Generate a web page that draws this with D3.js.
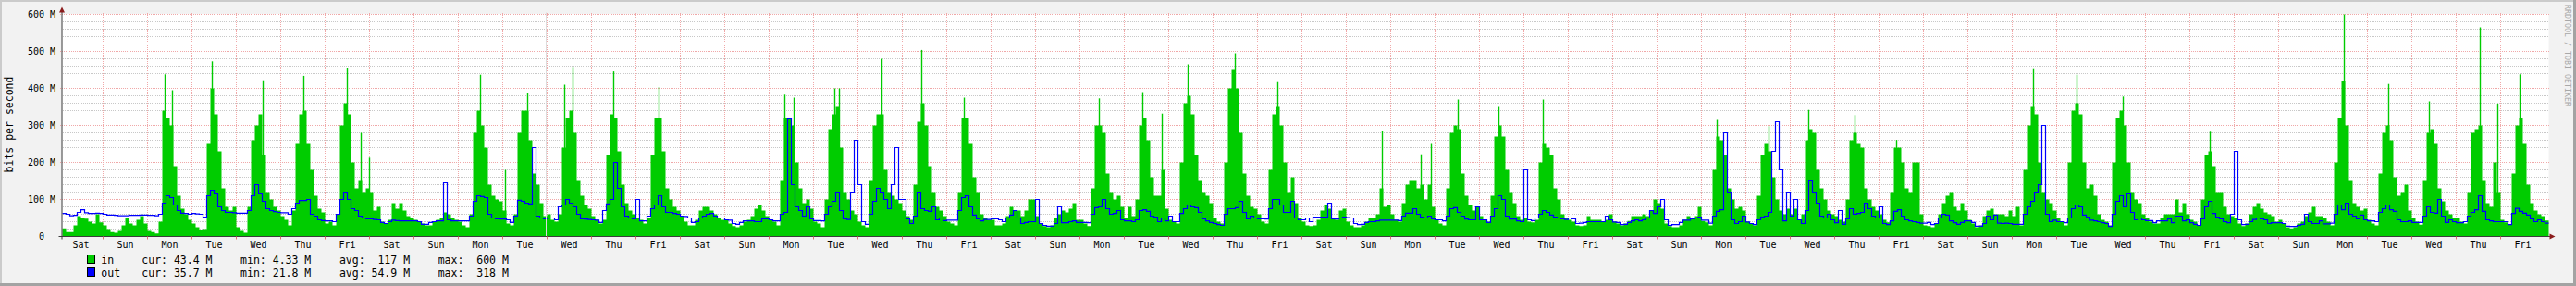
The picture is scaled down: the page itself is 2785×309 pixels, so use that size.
<!DOCTYPE html>
<html>
<head>
<meta charset="utf-8">
<script src="https://cdn.jsdelivr.net/npm/d3@7"></script>
<style>
  body { margin: 0; background: #f2f2f2; }
  text { font-family: "DejaVu Sans Mono", monospace; white-space: pre; }
</style>
</head>
<body>
<div id="my_dataviz"></div>
<script>
// traffic in Mbit/s, 2-hour averages, one row per day.
// first row is the partial Saturday starting at 02:00, then Sun .. Fri x 8 weeks, last row partial Sat
var inRate = [
  [22, 12, 12, 30, 55, 50, 48, 40, 35, 60, 38],
  [30, 20, 12, 10, 15, 30, 50, 35, 30, 45, 55, 35],
  [15, 12, 8, 40, 340, 320, 300, 190, 110, 75, 60, 45],
  [35, 25, 18, 20, 250, 400, 330, 230, 130, 80, 70, 80],
  [25, 15, 10, 80, 260, 300, 330, 220, 120, 100, 80, 70],
  [55, 45, 30, 70, 250, 330, 340, 250, 180, 110, 75, 65],
  [35, 40, 30, 60, 300, 360, 330, 200, 130, 150, 120, 130],
  [120, 70, 80, 40, 35, 45, 90, 75, 90, 70, 55, 50],
  [45, 40, 35, 30, 30, 40, 45, 50, 65, 60, 50, 45],
  [40, 30, 25, 60, 280, 340, 300, 240, 140, 110, 100, 95],
  [70, 35, 30, 60, 280, 340, 340, 260, 170, 140, 90, 55],
  [60, 45, 40, 60, 240, 320, 340, 280, 150, 110, 85, 75],
  [55, 45, 35, 45, 220, 330, 320, 230, 140, 90, 70, 60],
  [50, 45, 35, 50, 220, 320, 320, 230, 130, 100, 80, 70],
  [55, 40, 30, 30, 45, 70, 80, 80, 70, 60, 50, 45],
  [45, 35, 28, 25, 30, 40, 45, 55, 75, 85, 70, 55],
  [45, 40, 30, 150, 320, 320, 300, 200, 130, 90, 100, 75],
  [40, 35, 25, 100, 290, 330, 350, 240, 120, 100, 70, 60],
  [40, 30, 25, 150, 300, 330, 330, 180, 120, 110, 100, 90],
  [70, 55, 45, 140, 310, 360, 300, 190, 120, 80, 70, 55],
  [40, 35, 30, 120, 320, 320, 250, 160, 120, 60, 50, 45],
  [45, 30, 30, 35, 55, 80, 70, 70, 55, 70, 100, 100],
  [55, 35, 28, 25, 30, 50, 60, 70, 65, 75, 90, 45],
  [45, 35, 28, 130, 300, 300, 280, 170, 120, 100, 110, 80],
  [50, 80, 55, 100, 300, 320, 260, 160, 110, 110, 180, 75],
  [45, 40, 35, 200, 360, 380, 330, 220, 150, 120, 110, 90],
  [50, 40, 35, 200, 400, 450, 400, 280, 170, 110, 80, 75],
  [60, 40, 35, 180, 330, 350, 300, 200, 120, 160, 90, 50],
  [40, 30, 28, 30, 45, 70, 85, 75, 50, 45, 70, 75],
  [40, 30, 25, 25, 30, 40, 50, 50, 60, 130, 80, 85],
  [60, 45, 40, 90, 140, 150, 150, 130, 140, 100, 140, 80],
  [45, 35, 30, 130, 280, 300, 290, 170, 110, 85, 70, 80],
  [55, 45, 40, 110, 270, 300, 270, 180, 120, 90, 55, 45],
  [50, 40, 38, 45, 200, 250, 240, 220, 130, 100, 60, 50],
  [45, 40, 30, 28, 30, 55, 45, 45, 45, 40, 45, 60],
  [40, 35, 30, 35, 42, 55, 55, 55, 60, 55, 70, 100],
  [90, 75, 35, 28, 25, 25, 30, 45, 55, 50, 55, 80],
  [42, 38, 30, 180, 270, 260, 220, 130, 100, 75, 80, 70],
  [40, 35, 30, 110, 220, 250, 230, 160, 100, 70, 60, 75],
  [60, 75, 45, 60, 260, 290, 280, 180, 130, 100, 70, 60],
  [55, 45, 40, 100, 260, 280, 250, 240, 130, 100, 80, 70],
  [60, 45, 38, 120, 240, 240, 200, 130, 120, 200, 200, 60],
  [30, 28, 25, 35, 60, 90, 110, 120, 80, 70, 90, 70],
  [45, 35, 25, 30, 55, 70, 75, 60, 60, 60, 55, 70],
  [55, 80, 30, 180, 300, 350, 330, 200, 120, 100, 90, 70],
  [50, 40, 30, 200, 340, 360, 330, 200, 130, 140, 110, 60],
  [45, 40, 30, 200, 320, 340, 300, 200, 120, 100, 90, 60],
  [50, 40, 35, 35, 50, 60, 60, 60, 100, 65, 90, 60],
  [45, 40, 30, 100, 220, 230, 190, 120, 120, 80, 60, 55],
  [50, 35, 28, 35, 60, 80, 90, 75, 65, 60, 55, 40],
  [45, 35, 25, 22, 25, 35, 40, 55, 65, 80, 55, 55],
  [50, 40, 30, 200, 320, 420, 300, 150, 90, 80, 70, 75],
  [45, 35, 30, 170, 280, 300, 260, 160, 110, 120, 140, 70],
  [50, 40, 32, 150, 280, 290, 250, 130, 95, 70, 60, 50],
  [50, 40, 35, 120, 280, 290, 300, 150, 90, 80, 200, 120],
  [45, 38, 32, 170, 300, 320, 250, 140, 90, 70, 60, 55],
  [43]
];

var outRate = [
  [62, 60, 56, 57, 65, 72, 64, 62, 62, 63, 62],
  [60, 58, 58, 57, 56, 56, 56, 57, 57, 57, 58, 58],
  [57, 57, 56, 60, 90, 110, 105, 85, 70, 63, 62, 60],
  [62, 61, 60, 52, 110, 125, 115, 80, 70, 65, 65, 64],
  [63, 63, 63, 70, 110, 140, 115, 95, 75, 70, 67, 65],
  [64, 64, 60, 75, 90, 97, 97, 100, 60, 55, 45, 43],
  [42, 42, 40, 60, 100, 120, 100, 75, 70, 55, 50, 48],
  [48, 46, 45, 38, 35, 40, 44, 43, 42, 42, 42, 42],
  [42, 40, 33, 33, 38, 40, 42, 42, 145, 45, 42, 42],
  [42, 42, 42, 55, 95, 110, 108, 105, 60, 50, 48, 47],
  [47, 45, 38, 55, 98, 95, 90, 88, 240, 55, 50, 48],
  [50, 50, 45, 80, 85, 100, 90, 80, 60, 48, 47, 46],
  [45, 44, 38, 70, 88, 100, 200, 130, 80, 55, 50, 48],
  [100, 42, 42, 55, 75, 85, 110, 80, 65, 65, 62, 60],
  [55, 54, 50, 38, 40, 50, 55, 60, 62, 55, 50, 50],
  [45, 44, 35, 33, 38, 42, 42, 42, 40, 40, 48, 48],
  [45, 42, 42, 60, 65, 318, 140, 80, 70, 55, 80, 48],
  [43, 43, 42, 60, 80, 95, 120, 70, 48, 46, 120, 260],
  [140, 40, 33, 60, 95, 130, 120, 100, 75, 140, 240, 100],
  [100, 48, 35, 55, 120, 75, 70, 68, 80, 45, 50, 43],
  [44, 44, 44, 70, 105, 110, 80, 58, 48, 42, 46, 46],
  [48, 48, 45, 40, 50, 58, 70, 50, 35, 38, 40, 40],
  [100, 35, 30, 28, 28, 35, 80, 37, 37, 40, 42, 38],
  [38, 38, 37, 60, 78, 80, 100, 75, 60, 62, 70, 45],
  [42, 42, 40, 45, 70, 72, 68, 55, 52, 40, 50, 42],
  [55, 40, 40, 62, 75, 85, 80, 78, 65, 48, 42, 38],
  [35, 32, 30, 60, 75, 75, 78, 95, 65, 48, 55, 50],
  [48, 48, 47, 75, 100, 100, 85, 65, 65, 95, 50, 45],
  [45, 50, 40, 52, 52, 52, 52, 90, 48, 47, 50, 52],
  [51, 50, 35, 32, 33, 38, 40, 40, 42, 44, 44, 44],
  [44, 44, 43, 55, 63, 63, 75, 60, 52, 50, 55, 48],
  [45, 45, 42, 55, 75, 78, 65, 55, 47, 45, 45, 80],
  [45, 45, 38, 55, 75, 110, 100, 55, 47, 47, 42, 40],
  [180, 45, 43, 50, 60, 70, 65, 58, 52, 50, 48, 46],
  [50, 48, 35, 36, 38, 40, 40, 40, 40, 40, 55, 45],
  [39, 38, 32, 33, 38, 42, 45, 42, 45, 50, 70, 62],
  [80, 100, 45, 30, 32, 32, 38, 44, 44, 48, 50, 52],
  [44, 44, 36, 55, 68, 72, 280, 120, 45, 35, 40, 55],
  [39, 35, 32, 45, 52, 55, 65, 230, 310, 180, 42, 120],
  [55, 100, 45, 35, 70, 150, 120, 90, 55, 50, 60, 45],
  [37, 70, 33, 48, 75, 60, 62, 65, 90, 75, 55, 50],
  [80, 35, 32, 42, 68, 72, 55, 45, 42, 40, 38, 36],
  [36, 38, 32, 35, 50, 60, 58, 42, 37, 33, 38, 42],
  [42, 38, 28, 28, 35, 55, 45, 58, 36, 35, 36, 35],
  [33, 33, 33, 60, 80, 95, 120, 140, 300, 60, 40, 44],
  [40, 40, 37, 50, 75, 85, 80, 58, 52, 44, 42, 40],
  [37, 35, 27, 60, 95, 110, 80, 115, 65, 45, 50, 45],
  [43, 43, 37, 42, 42, 42, 48, 37, 55, 55, 42, 45],
  [37, 33, 30, 48, 80, 95, 62, 52, 48, 40, 37, 60],
  [230, 45, 32, 33, 40, 46, 50, 48, 45, 35, 37, 37],
  [37, 35, 28, 27, 27, 30, 33, 60, 40, 35, 35, 42],
  [34, 34, 36, 60, 85, 72, 90, 60, 55, 48, 58, 45],
  [42, 42, 40, 65, 75, 85, 72, 68, 45, 40, 40, 42],
  [38, 38, 38, 55, 80, 65, 63, 100, 55, 38, 45, 40],
  [37, 37, 40, 55, 65, 72, 110, 68, 45, 42, 40, 40],
  [40, 40, 32, 62, 76, 68, 63, 58, 48, 40, 45, 40],
  [36]
];

// single 5-minute spikes of "in": [day after first Sunday, hour, Mbit/s]
var inPeaks = [
  [1, 9.0, 438], [1, 13.2, 395], [2, 10.5, 473], [3, 14.3, 422], [4, 12.0, 434],
  [5, 11.8, 456], [5, 19.0, 280], [5, 23.6, 213], [8, 11.8, 437], [9, 1.3, 180],
  [9, 13.0, 388], [10, 9.0, 410], [10, 13.8, 458], [11, 12.0, 446], [12, 12.2, 404],
  [15, 8.0, 383], [15, 13.2, 375], [16, 11.2, 400], [16, 13.7, 400], [17, 12.5, 480],
  [18, 10.0, 504], [19, 9.2, 375], [22, 10.0, 373], [23, 9.8, 390], [23, 20.0, 332],
  [24, 10.0, 465], [25, 11.5, 495], [26, 10.8, 417], [28, 19.0, 284], [29, 16.3, 222],
  [29, 21.7, 250], [30, 12.0, 370], [31, 10.3, 350], [32, 10.0, 370], [36, 8.2, 315],
  [37, 12.2, 298], [38, 9.5, 342], [39, 10.8, 328], [40, 9.3, 261], [43, 11.2, 452],
  [44, 10.8, 437], [45, 11.8, 378], [47, 10.8, 283], [50, 11.0, 600], [51, 11.2, 412],
  [52, 9.3, 365], [53, 12.8, 565], [53, 22.0, 359], [54, 10.0, 438]
];

var yTicks = [0, 100, 200, 300, 400, 500, 600];
var legendNames = ["in", "out"];
var legendColors = ["#00cc00", "#0000ff"];
var legendStats = [
  ["43.4 M", "4.33 M", "117 M", "600 M"],
  ["35.7 M", "21.8 M", "54.9 M", "318 M"]
];
var statNames = ["cur:", "min:", "avg:", "max:"];

// set the dimensions of the picture
var W = 2785, H = 309;
var plot = {left: 67.5, right: 2755.5, top: 15.5, bottom: 255.5};

var HOUR = 3600 * 1000;
var sunday = new Date(2011, 0, 2);                 // first full day on the graph
var start = new Date(sunday.getTime() - 22 * HOUR); // Sat 02:00
var end = new Date(start.getTime() + 56 * 24 * HOUR);

// flatten the rows into 2-hour samples
var samples = [];
inRate.forEach(function(row, r) {
  row.forEach(function(v, i) {
    samples.push({ inV: v, outV: outRate[r][i] });
  });
});
samples.forEach(function(d, i) {
  d.t = new Date(start.getTime() + i * 2 * HOUR);
});
var last = samples[samples.length - 1];
var stepPts = samples.concat([{ t: end, inV: last.inV, outV: last.outV }]);

var svg = d3.select("#my_dataviz")
  .append("svg")
    .attr("width", W)
    .attr("height", H);

// background and 3d border
svg.append("rect").attr("width", W).attr("height", H).attr("fill", "#f2f2f2");
svg.append("rect").attr("x", 0).attr("y", 0).attr("width", W).attr("height", 2).attr("fill", "#cbcbcb");
svg.append("rect").attr("x", 0).attr("y", 0).attr("width", 2).attr("height", H).attr("fill", "#cbcbcb");
svg.append("rect").attr("x", 0).attr("y", H - 3).attr("width", W).attr("height", 3).attr("fill", "#a3a3a3");
svg.append("rect").attr("x", W - 3).attr("y", 0).attr("width", 3).attr("height", H).attr("fill", "#a3a3a3");

// canvas
svg.append("rect")
  .attr("x", plot.left).attr("y", plot.top - 0.5)
  .attr("width", plot.right - plot.left).attr("height", plot.bottom - plot.top)
  .attr("fill", "#ffffff");

var x = d3.scaleTime()
  .domain([start, end])
  .range([plot.left, plot.right]);

var y = d3.scaleLinear()
  .domain([0, 600e6])
  .range([plot.bottom, plot.top]);

// ---------------------------//
//       GRID                 //
// ---------------------------//

var minor = d3.range(20, 600, 20).filter(function(v) { return v % 100 !== 0; });
svg.append("g")
  .selectAll("line")
  .data(minor)
  .enter()
  .append("line")
    .attr("x1", plot.left).attr("x2", plot.right)
    .attr("y1", function(d) { return y(d * 1e6); })
    .attr("y2", function(d) { return y(d * 1e6); })
    .attr("stroke", "#c8c8c8")
    .attr("stroke-dasharray", "1,1")
    .attr("shape-rendering", "crispEdges");

var days = d3.timeDay.range(sunday, end);
svg.append("g")
  .selectAll("line")
  .data(days)
  .enter()
  .append("line")
    .attr("x1", function(d) { return x(d); })
    .attr("x2", function(d) { return x(d); })
    .attr("y1", plot.top - 2).attr("y2", plot.bottom)
    .attr("stroke", "#f0a8a8")
    .attr("stroke-dasharray", "1,1")
    .attr("shape-rendering", "crispEdges");

svg.append("g")
  .selectAll("line")
  .data(yTicks.slice(1))
  .enter()
  .append("line")
    .attr("x1", plot.left - 3).attr("x2", plot.right)
    .attr("y1", function(d) { return y(d * 1e6); })
    .attr("y2", function(d) { return y(d * 1e6); })
    .attr("stroke", "#f0a8a8")
    .attr("stroke-dasharray", "1,1")
    .attr("shape-rendering", "crispEdges");

// ---------------------------//
//       DATA                 //
// ---------------------------//

svg.append("path")
  .datum(stepPts)
  .attr("fill", "#00cc00")
  .attr("d", d3.area()
    .curve(d3.curveStepAfter)
    .x(function(d) { return x(d.t); })
    .y0(plot.bottom)
    .y1(function(d) { return y(d.inV * 1e6); }));

svg.append("g")
  .selectAll("line")
  .data(inPeaks)
  .enter()
  .append("line")
    .attr("x1", function(d) { return Math.round(x(new Date(sunday.getTime() + (d[0] * 24 + d[1]) * HOUR))) + 0.5; })
    .attr("x2", function(d) { return Math.round(x(new Date(sunday.getTime() + (d[0] * 24 + d[1]) * HOUR))) + 0.5; })
    .attr("y1", plot.bottom)
    .attr("y2", function(d) { return y(d[2] * 1e6); })
    .attr("stroke", "#00cc00")
    .attr("stroke-width", 1.4);

svg.append("path")
  .datum(stepPts)
  .attr("fill", "none")
  .attr("stroke", "#0000ff")
  .attr("stroke-width", 1.2)
  .attr("d", d3.line()
    .curve(d3.curveStepAfter)
    .x(function(d) { return x(d.t); })
    .y(function(d) { return y(d.outV * 1e6); }));

// data gap marker
svg.append("line")
  .attr("x1", 590.5).attr("x2", 590.5)
  .attr("y1", plot.top - 2).attr("y2", plot.bottom)
  .attr("stroke", "#dcdcdc");

// ---------------------------//
//       AXES                 //
// ---------------------------//

svg.append("line")
  .attr("x1", plot.left - 4).attr("x2", plot.right + 2)
  .attr("y1", plot.bottom).attr("y2", plot.bottom)
  .attr("stroke", "#3c3c3c");
svg.append("line")
  .attr("x1", plot.left - 0.5).attr("x2", plot.left - 0.5)
  .attr("y1", plot.top - 5).attr("y2", plot.bottom + 3)
  .attr("stroke", "#3c3c3c");

svg.append("g")
  .selectAll("line")
  .data(days)
  .enter()
  .append("line")
    .attr("x1", function(d) { return x(d); })
    .attr("x2", function(d) { return x(d); })
    .attr("y1", plot.bottom).attr("y2", plot.bottom + 3)
    .attr("stroke", "#e07070");

// arrows
svg.append("path")
  .attr("d", "M" + (plot.left - 3.5) + "," + (plot.top - 2) + " L" + (plot.left - 0.5) + "," + (plot.top - 8) +
             " L" + (plot.left + 2.5) + "," + (plot.top - 2) + "Z")
  .attr("fill", "#8b1c1c");
svg.append("path")
  .attr("d", "M" + (plot.right + 1) + "," + (plot.bottom - 3) + " L" + (plot.right + 7) + "," + plot.bottom +
             " L" + (plot.right + 1) + "," + (plot.bottom + 3) + "Z")
  .attr("fill", "#8b1c1c");

// y labels
svg.append("g")
  .selectAll("text")
  .data(yTicks)
  .enter()
  .append("text")
    .attr("x", 60)
    .attr("y", function(d) { return y(d * 1e6) + 3.5; })
    .attr("text-anchor", "end")
    .style("font-size", "10px")
    .text(function(d) { return d === 0 ? "0  " : d + " M"; });

// day labels at noon
var fmt = d3.timeFormat("%a");
var noons = d3.timeDay.range(new Date(sunday.getTime() - 24 * HOUR), end)
  .map(function(d) { return new Date(d.getTime() + 12 * HOUR); })
  .filter(function(d) { return x(d) > plot.left && x(d) < plot.right; });
svg.append("g")
  .selectAll("text")
  .data(noons)
  .enter()
  .append("text")
    .attr("x", function(d) { return x(d); })
    .attr("y", 268)
    .attr("text-anchor", "middle")
    .style("font-size", "10px")
    .text(function(d) { return fmt(d); });

// y axis title
svg.append("text")
  .attr("transform", "translate(13.5,134.5) rotate(-90)")
  .attr("text-anchor", "middle")
  .style("font-size", "11.5px")
  .text("bits per second");

// watermark
svg.append("text")
  .attr("transform", "translate(2772.5,5) rotate(90)")
  .attr("fill", "#a8a8a8")
  .style("font-size", "8.3px")
  .text("RRDTOOL / TOBI OETIKER");

// ---------------------------//
//       LEGEND               //
// ---------------------------//

var rowY = [285, 299];
legendNames.forEach(function(name, r) {
  svg.append("rect")
    .attr("x", 94.5).attr("y", rowY[r] - 9.5)
    .attr("width", 8).attr("height", 9)
    .attr("fill", legendColors[r])
    .attr("stroke", "#000");
  svg.append("text")
    .attr("x", 109.3).attr("y", rowY[r])
    .style("font-size", "11.5px")
    .text(name);
  legendStats[r].forEach(function(s, i) {
    svg.append("text")
      .attr("x", 153.3 + i * 106.8).attr("y", rowY[r])
      .style("font-size", "11.5px")
      .text(statNames[i] + " " + s.padStart(6, " "));
  });
});
</script>
</body>
</html>
